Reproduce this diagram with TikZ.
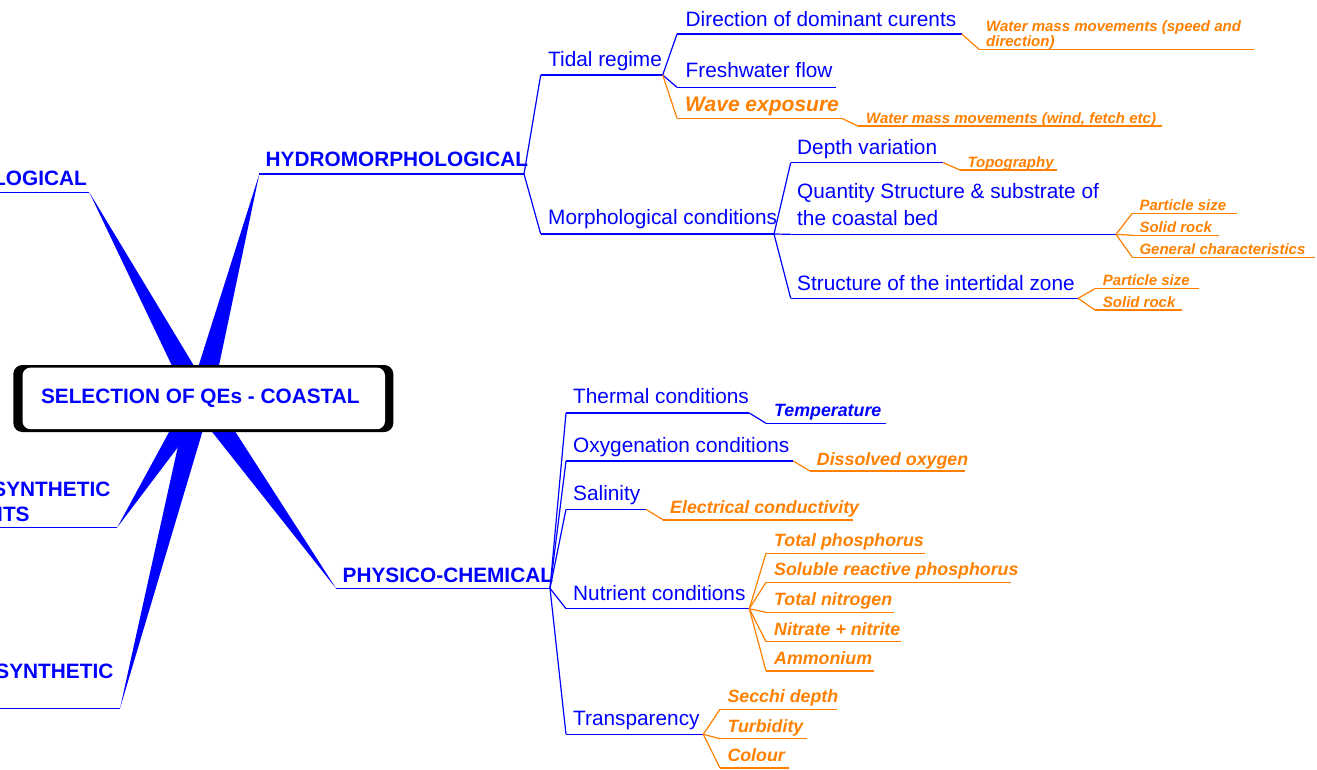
\documentclass[tikz,border=0pt]{standalone}
\usepackage{fontspec}
\setmainfont{Liberation Sans}
\usetikzlibrary{calc,backgrounds}
\definecolor{qorange}{RGB}{255,128,0}
\definecolor{qblue}{RGB}{0,0,255}
\newcommand\qitem[9]{%
  \coordinate (#1L) at (#4,#6);
  \coordinate (#1R) at (#5,#6);
  \node[#2] (#1) at (#7,#8) {#9};
  \draw[#3] (#1L) -- (#1R);
}
\newcommand\twolines[2]{\begin{tabular}[b]{@{}l@{}}#1\\#2\end{tabular}}
\tikzset{
  bl/.style={text=qblue, inner sep=0pt, anchor=base west, font=\fontsize{20.8}{27}\selectfont},
  hd/.style={text=qblue, inner sep=0pt, anchor=base west, font=\fontsize{20.8}{25}\selectfont\bfseries},
  hde/.style={hd, anchor=base east},
  orS/.style={text=qorange, inner sep=0pt, anchor=base west, font=\fontsize{15}{15.5}\selectfont\bfseries\itshape},
  orM/.style={text=qorange, inner sep=0pt, anchor=base west, font=\fontsize{17.8}{20}\selectfont\bfseries\itshape},
  orL/.style={text=qorange, inner sep=0pt, anchor=base west, font=\fontsize{21}{24}\selectfont\bfseries\itshape},
  blM/.style={orM, text=qblue},
  bline/.style={draw=qblue, line width=1.2pt},
  oline/.style={draw=qorange, line width=1.2pt},
  wedge/.style={fill=qblue},
}
\begin{document}
\begin{tikzpicture}[x=1pt,y=-1pt]
\useasboundingbox (0,0) rectangle (1317,769);

% root
\node[text=qblue, inner sep=0pt, font=\fontsize{20.8}{25}\selectfont\bfseries] (root) at (200.3,398.5) {SELECTION OF QEs - COASTAL};

% headers
\qitem{logic}{hde}{bline}{0}{89.3}{192.3}{87}{185}{LOGICAL}
\qitem{hydro}{hd}{bline}{259.3}{524}{174}{265.5}{166.7}{HYDROMORPHOLOGICAL}
\qitem{synA}{hde}{bline}{0}{117.3}{527.3}{110.5}{496.7}{SYNTHETIC}
\node[hde] (synAb) at (29.8,521.7) {ITS};
\qitem{synB}{hde}{bline}{0}{120}{708.3}{113.5}{678.3}{SYNTHETIC}
\qitem{phys}{hd}{bline}{336}{550}{588.3}{342.5}{582}{PHYSICO-CHEMICAL}

% wedges and box on background
\begin{pgfonlayer}{background}
  \foreach \t in {logicR,hydroL,synAR,synBR,physL}{
    \fill[wedge] ($(root.center)!11.5pt!90:(\t)$) -- (\t) -- ($(root.center)!11.5pt!-90:(\t)$) -- cycle;
  }
  \fill[black, rounded corners=9pt] (13.3,365) rectangle (393.3,432);
  \fill[white, rounded corners=8pt] (22.5,367.6) rectangle (385,429.2);
\end{pgfonlayer}

% hydromorphological branch
\qitem{tidal}{bl}{bline}{540.7}{662.7}{75}{548}{66}{Tidal regime}
\qitem{morph}{bl}{bline}{540.7}{774}{234}{548}{224}{Morphological conditions}
\draw[bline] (hydroR) -- (tidalL);
\draw[bline] (hydroR) -- (morphL);

\qitem{dir}{bl}{bline}{677}{961.7}{34}{685.5}{26}{Direction of dominant curents}
\qitem{fresh}{bl}{bline}{677}{835.7}{87.3}{685.5}{77.3}{Freshwater flow}
\qitem{wave}{orL}{oline}{677}{841.7}{118.3}{685}{111.7}{Wave exposure}
\draw[bline] (tidalR) -- (dirL);
\draw[bline] (tidalR) -- (freshL);
\draw[oline] (tidalR) -- (waveL);

\qitem{wms}{orS}{oline}{979}{1254}{49.3}{986}{46.7}{\twolines{Water mass movements (speed and}{direction)}}
\draw[oline] (dirR) -- (wmsL);
\qitem{wmw}{orS}{oline}{858}{1162.3}{126}{866}{123.3}{Water mass movements (wind, fetch etc)}
\draw[oline] (waveR) -- (wmwL);

\qitem{depth}{bl}{bline}{790.7}{943.3}{162.7}{797}{154}{Depth variation}
\qitem{quant}{bl}{bline}{790.7}{1116}{234.3}{797}{225}{\twolines{Quantity Structure \& substrate of}{the coastal bed}}
\qitem{inter}{bl}{bline}{790.7}{1078}{298.3}{797}{290}{Structure of the intertidal zone}
\draw[bline] (morphR) -- (depthL);
\draw[bline] (morphR) -- (quantL);
\draw[bline] (morphR) -- (interL);

\qitem{topo}{orS}{oline}{960}{1056.7}{170}{967.3}{167.5}{Topography}
\draw[oline] (depthR) -- (topoL);

\qitem{psA}{orS}{oline}{1132.3}{1236.7}{213.3}{1139.3}{210.7}{Particle size}
\qitem{srA}{orS}{oline}{1132.3}{1219.3}{235.3}{1139.3}{232.7}{Solid rock}
\qitem{gc}{orS}{oline}{1132.3}{1315}{257.3}{1139.3}{254.5}{General characteristics}
\draw[oline] (quantR) -- (psAL);
\draw[oline] (quantR) -- (srAL);
\draw[oline] (quantR) -- (gcL);

\qitem{psB}{orS}{oline}{1095}{1199.3}{288.7}{1102.7}{285.5}{Particle size}
\qitem{srB}{orS}{oline}{1095}{1182.3}{310}{1102.7}{307}{Solid rock}
\draw[oline] (interR) -- (psBL);
\draw[oline] (interR) -- (srBL);

% physico-chemical branch
\qitem{therm}{bl}{bline}{566}{749.3}{413}{573}{403.3}{Thermal conditions}
\qitem{oxy}{bl}{bline}{566}{793.3}{461}{573}{452.7}{Oxygenation conditions}
\qitem{sal}{bl}{bline}{566}{646}{509.3}{573}{500.7}{Salinity}
\qitem{nut}{bl}{bline}{566}{749.3}{608.7}{573}{600}{Nutrient conditions}
\qitem{trans}{bl}{bline}{566}{703.3}{734.3}{573}{725.3}{Transparency}
\foreach \c in {therm,oxy,sal,nut,trans}{\draw[bline] (physR) -- (\c L);}

\qitem{temp}{blM}{bline}{766}{885.7}{423.3}{774}{416.7}{Temperature}
\draw[bline] (thermR) -- (tempL);
\qitem{dox}{orM}{oline}{810}{965}{471}{816.7}{465}{Dissolved oxygen}
\draw[oline] (oxyR) -- (doxL);
\qitem{ec}{orM}{oline}{663.3}{853.3}{520}{670}{513.3}{Electrical conductivity}
\draw[oline] (salR) -- (ecL);

\qitem{tp}{orM}{oline}{766}{925}{553.3}{774}{546.7}{Total phosphorus}
\qitem{srp}{orM}{oline}{766}{1010.7}{582.3}{774}{575.7}{Soluble reactive phosphorus}
\qitem{tn}{orM}{oline}{766}{894.3}{612.3}{774}{605.7}{Total nitrogen}
\qitem{nn}{orM}{oline}{766}{900.7}{641.7}{774}{635}{Nitrate + nitrite}
\qitem{am}{orM}{oline}{766}{874.3}{671}{774}{664.3}{Ammonium}
\foreach \c in {tp,srp,tn,nn,am}{\draw[oline] (nutR) -- (\c L);}

\qitem{sd}{orM}{oline}{720}{837.3}{709.3}{727.3}{702.3}{Secchi depth}
\qitem{tu}{orM}{oline}{720}{806.7}{738.7}{727.3}{732.3}{Turbidity}
\qitem{co}{orM}{oline}{720}{789.3}{768}{727.3}{761.7}{Colour}
\foreach \c in {sd,tu,co}{\draw[oline] (transR) -- (\c L);}
\end{tikzpicture}
\end{document}
